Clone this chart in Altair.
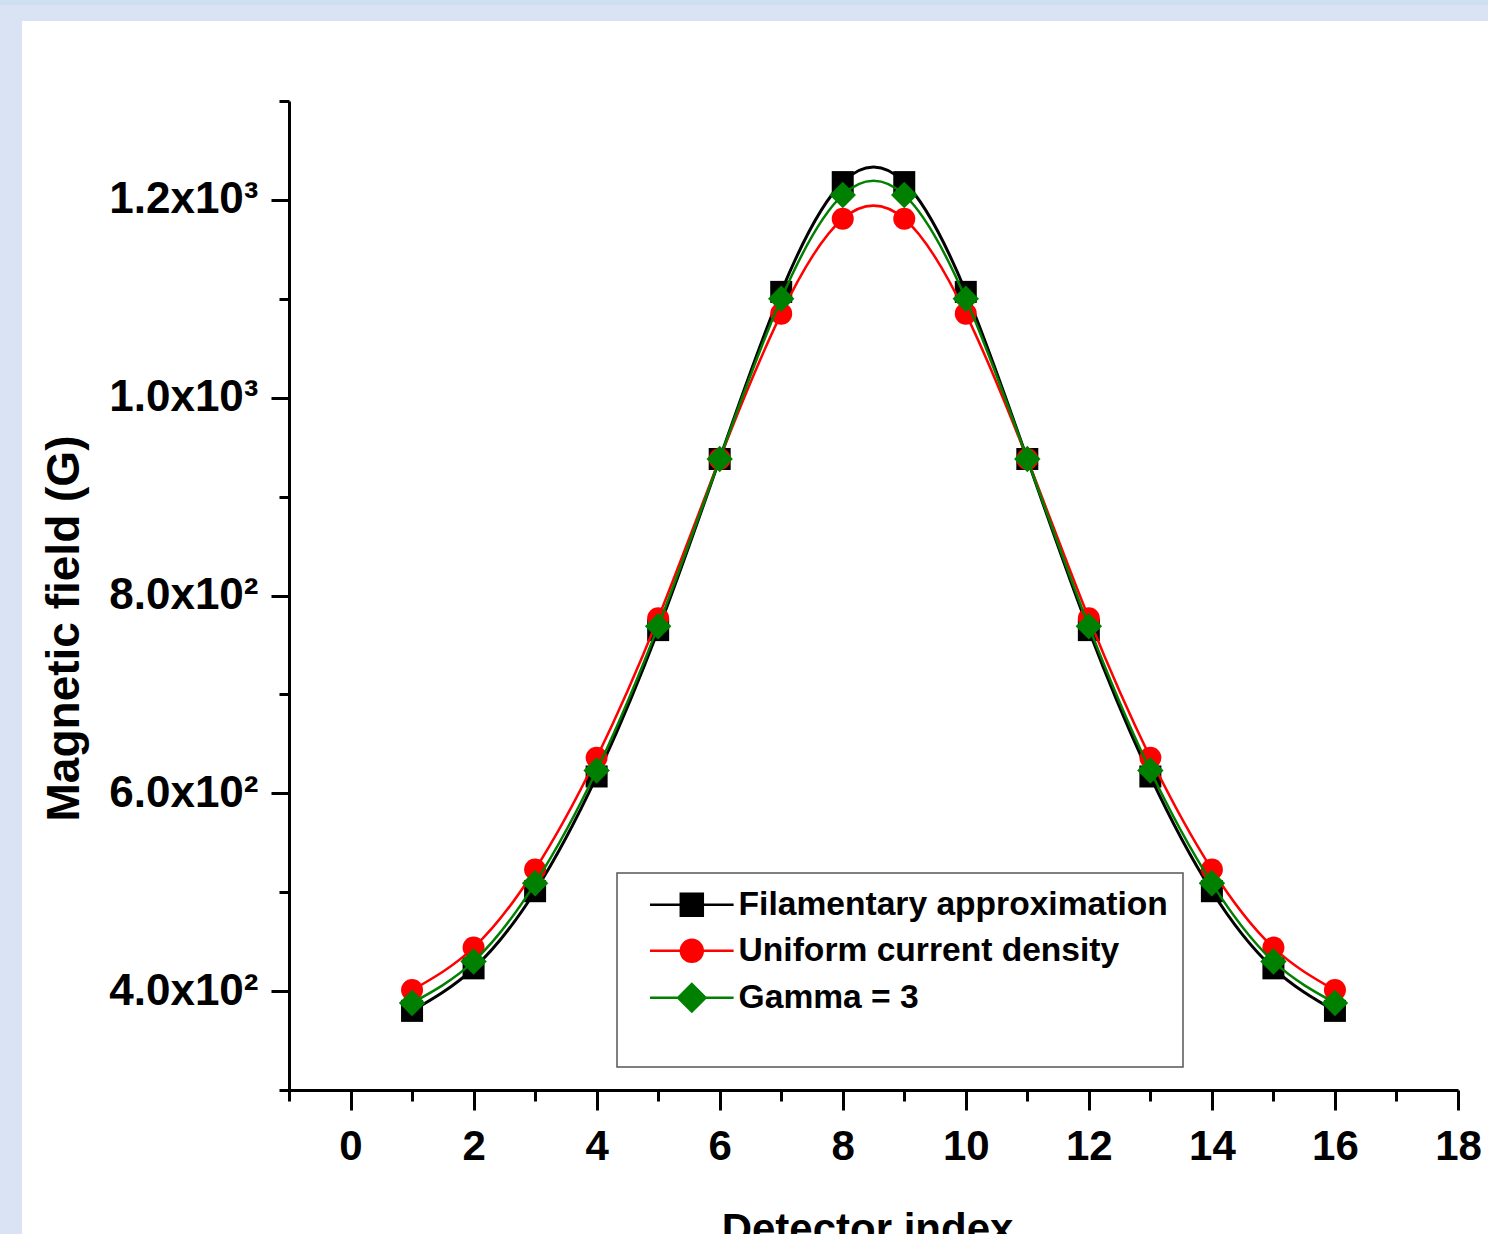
import altair as alt
import pandas as pd

# ---------------- data ----------------
detector = list(range(1, 17))
filamentary = [380, 423, 501, 617, 765, 938, 1107, 1218, 1218, 1107, 938, 765, 617, 501, 423, 380]
uniform = [401, 444, 523, 636, 777, 938, 1085, 1181, 1181, 1085, 938, 777, 636, 523, 444, 401]
gamma3 = [388, 430, 509, 623, 769, 938, 1100, 1205, 1205, 1100, 938, 769, 623, 509, 430, 388]

series_names = ["Filamentary approximation", "Uniform current density", "Gamma = 3"]
series_colors = ["#000000", "#ff0000", "#008000"]
point_shapes = ["square", "circle", "diamond"]
point_sizes = [484, 484, 700]
line_widths = [3, 2.5, 2.5]
legend_shapes = [
    "M-3.8,0H3.8M-1,-1H1V1H-1Z",
    "M-3.8,0H3.8M1,0A1,1,0,1,1,-1,0A1,1,0,1,1,1,0Z",
    "M-3.8,0H3.8M-1.25,0L0,-1.25L1.25,0L0,1.25Z",
]
x_ticks = list(range(-1, 19))
y_ticks = list(range(300, 1301, 100))

rows = []
for name, vals in zip(series_names, [filamentary, uniform, gamma3]):
    for i, v in zip(detector, vals):
        rows.append({"series": name, "idx": i, "value": v})
df = pd.DataFrame(rows)
legend_df = pd.DataFrame({"series": series_names, "idx": [None] * 3, "value": [None] * 3})

# ---------------- layout ----------------
W, H = 1169, 989
PL, PT, PR, PB = 289, 101, 30, 160
FONT = "Liberation Sans"

x_axis = alt.Axis(
    values=x_ticks,
    labelExpr="(datum.value % 2 === 0 && datum.value >= 0) ? datum.label : ''",
    tickSize={"condition": {"test": "datum.value % 2 === 0", "value": 20}, "value": 11},
    tickWidth=3, tickColor="black", domainWidth=3, domainColor="black",
    grid=False, labelFlush=False, labelOverlap=False,
    labelFont=FONT, labelFontWeight="bold", labelFontSize=42, labelColor="black",
    labelPadding=16, labelBaseline="top",
    title="Detector index", titleFont=FONT, titleFontWeight="bold", titleFontSize=42,
    titleColor="black", titleX=578, titleY=152, titleBaseline="alphabetic", titleAlign="center",
    zindex=1,
)
y_axis = alt.Axis(
    values=y_ticks,
    labelExpr=("(datum.value % 200 === 0 && datum.value >= 400 && datum.value <= 1200) ? "
               "(datum.value >= 1000 ? format(datum.value/1000, '.1f') + 'x10\u00b3' "
               ": format(datum.value/100, '.1f') + 'x10\u00b2') : ''"),
    tickSize={"condition": {"test": "datum.value % 200 === 0", "value": 18}, "value": 10},
    tickWidth=3, tickColor="black", domainWidth=3, domainColor="black",
    grid=False, labelOverlap=False, labelFlush=False,
    labelFont=FONT, labelFontWeight="bold", labelFontSize=44, labelColor="black",
    labelPadding=13, labelBaseline="middle",
    title="Magnetic field (G)", titleFont=FONT, titleFontWeight="bold", titleFontSize=46,
    titleColor="black", titleX=-211, titleY=527, titleAngle=270,
    titleBaseline="alphabetic", titleAlign="center",
    zindex=1,
)

x_enc = alt.X("idx:Q", scale=alt.Scale(domain=[-1, 18], nice=False, zero=False), axis=x_axis)
y_enc = alt.Y("value:Q", scale=alt.Scale(domain=[300, 1300], nice=False, zero=False), axis=y_axis)

one = alt.Data(values=[{"k": 1}])
bg = alt.Chart(one).mark_rect(color="white").encode(
    x=alt.value(22 - PL), x2=alt.value(W + PR), y=alt.value(21 - PT), y2=alt.value(H + PB)
)
strip = alt.Chart(one).mark_rect(color="#cddff0").encode(
    x=alt.value(-PL), x2=alt.value(W + PR), y=alt.value(-PT), y2=alt.value(5 - PT)
)

layers = [bg, strip]
for name, col, shp, sz, lw in zip(series_names, series_colors, point_shapes, point_sizes, line_widths):
    base = alt.Chart(df).transform_filter(alt.datum.series == name)
    layers.append(base.mark_line(interpolate="natural", color=col, strokeWidth=lw).encode(x=x_enc, y=y_enc))
    layers.append(base.mark_point(filled=True, shape=shp, size=sz, color=col, opacity=1).encode(x=x_enc, y=y_enc))

leg = dict(
    title=" ", titleOrient="bottom", titleFontSize=30, titlePadding=5,
    orient="none", legendX=328, legendY=772,
    symbolSize=484, symbolStrokeWidth=2.5, symbolOffset=43, labelOffset=30,
    symbolOpacity=1,
    labelFont=FONT, labelFontWeight="bold", labelFontSize=33.6, labelColor="black",
    labelLimit=0, padding=15, rowPadding=11,
    strokeColor="#555555", fillColor="white",
)
legend_layer = alt.Chart(legend_df).mark_point(filled=True, strokeWidth=2.5, opacity=1).encode(
    x=x_enc, y=y_enc,
    fill=alt.Fill("series:N", scale=alt.Scale(domain=series_names, range=series_colors), legend=alt.Legend(**leg)),
    stroke=alt.Stroke("series:N", scale=alt.Scale(domain=series_names, range=series_colors), legend=alt.Legend(**leg)),
    shape=alt.Shape("series:N", scale=alt.Scale(domain=series_names, range=legend_shapes), legend=alt.Legend(**leg)),
)
layers.append(legend_layer)

chart = alt.layer(*layers).properties(
    width=W, height=H,
    padding={"left": PL, "top": PT, "right": PR, "bottom": PB},
    autosize=alt.AutoSizeParams(type="none"),
    background="#d9e3f3",
).configure_view(stroke=None).configure_legend(strokeWidth=1.5)

chart.save("out.html", embed_options={"renderer": "svg", "actions": False})
